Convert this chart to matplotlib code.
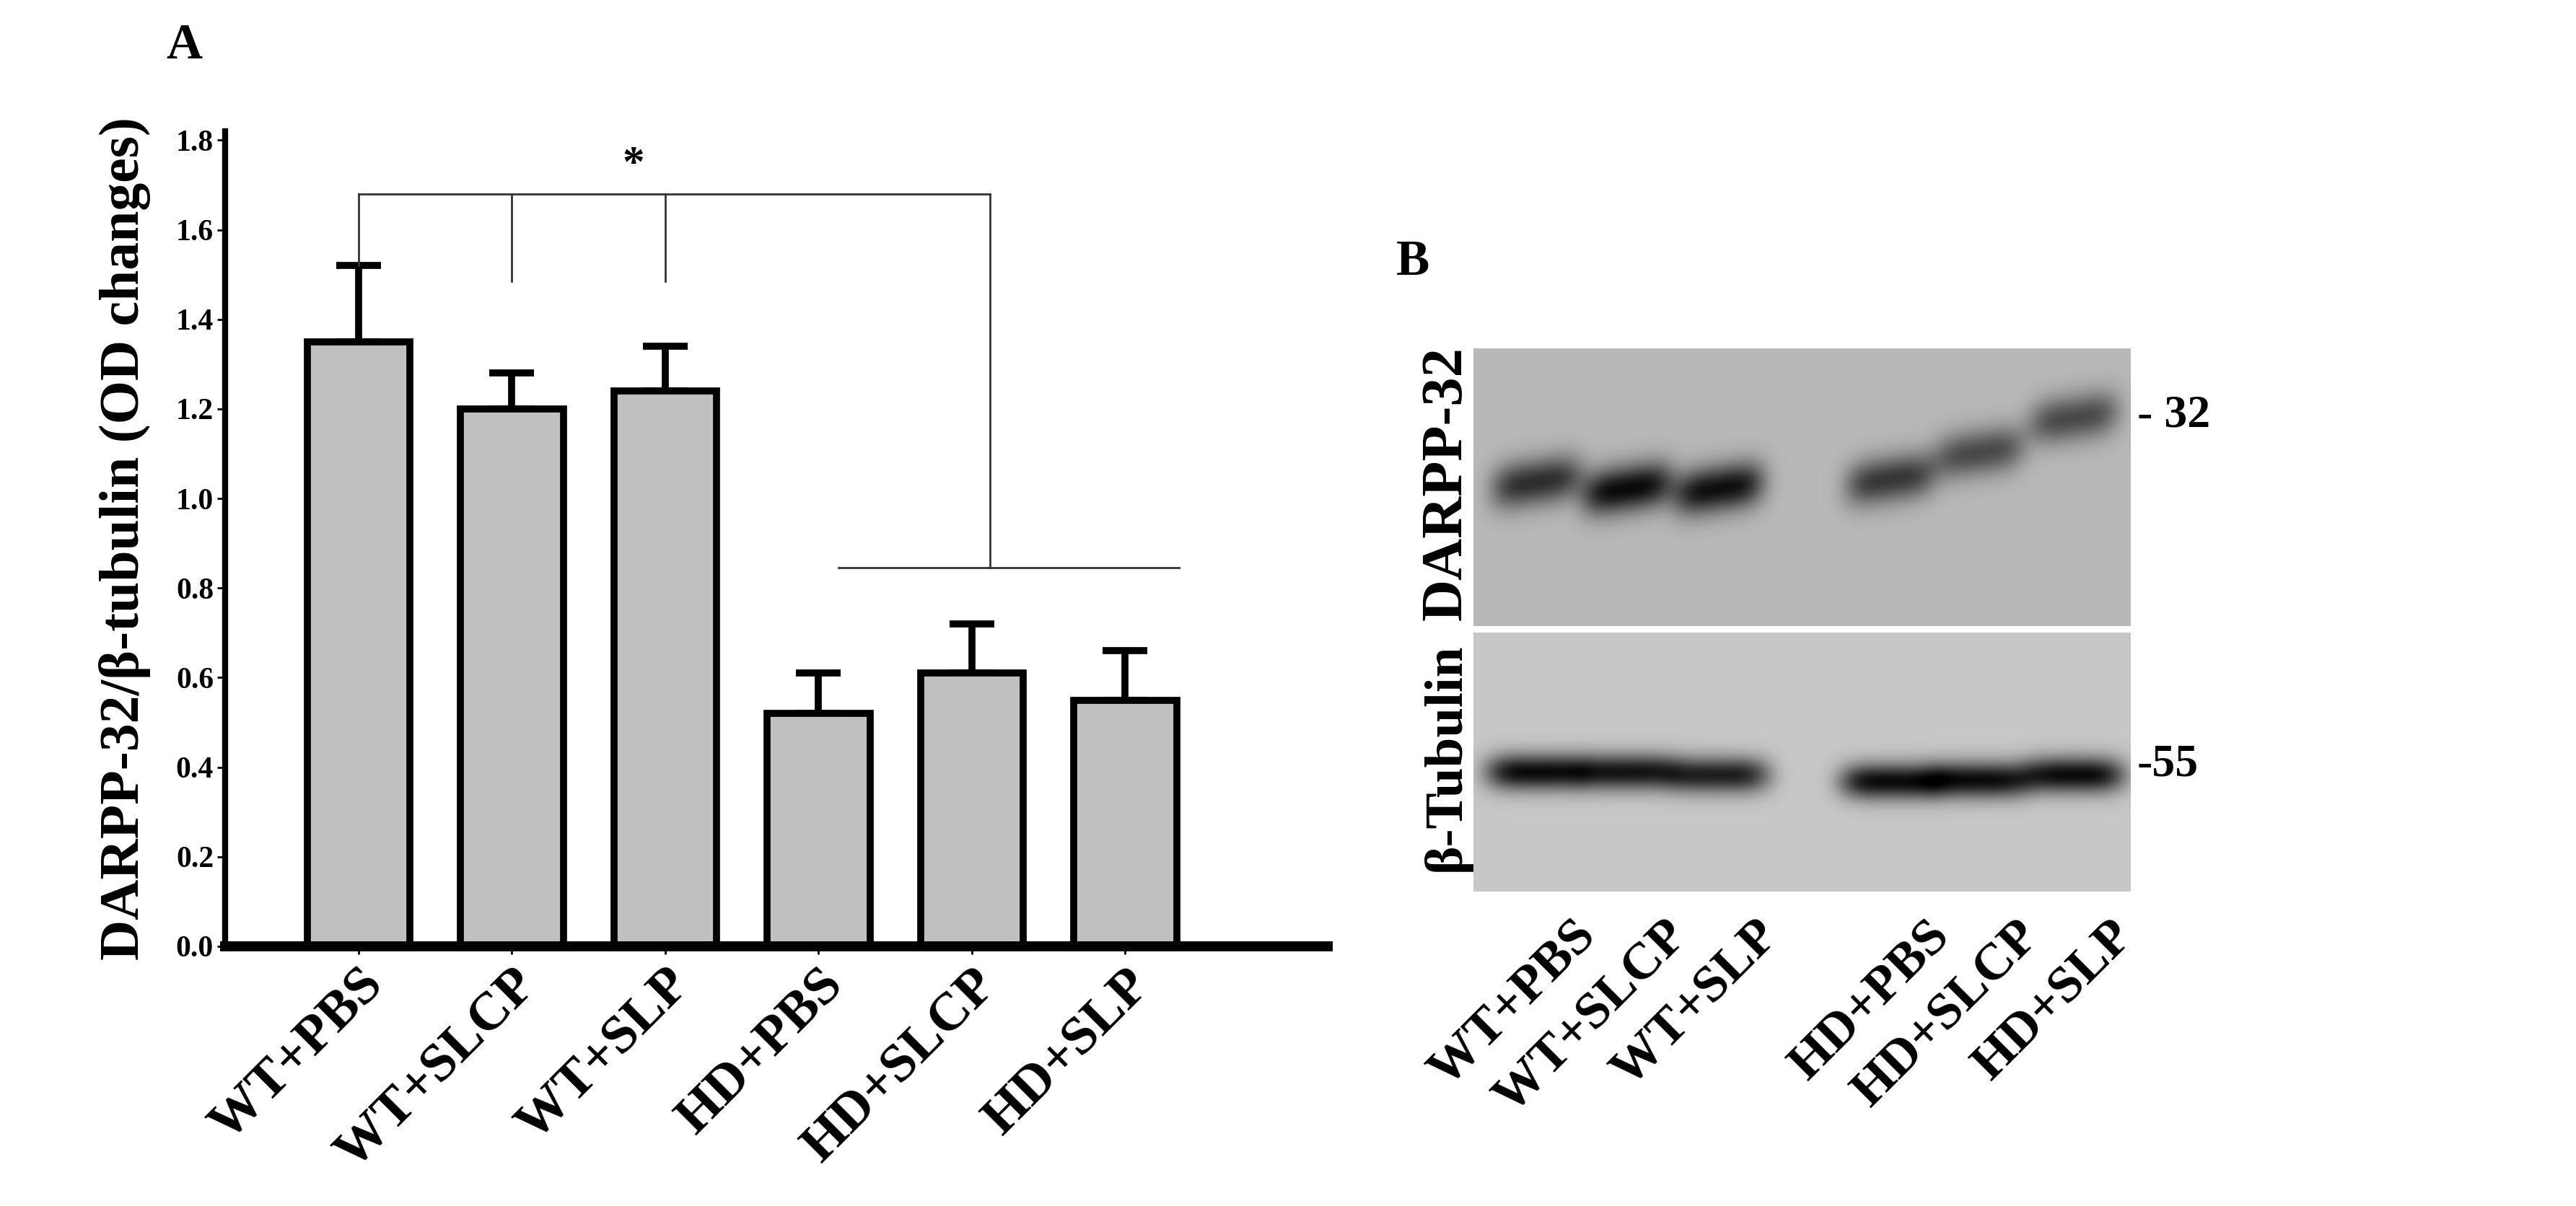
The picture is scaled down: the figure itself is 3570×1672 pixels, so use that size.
import numpy as np
import matplotlib.pyplot as plt

groups = ['WT+PBS', 'WT+SLCP', 'WT+SLP', 'HD+PBS', 'HD+SLCP', 'HD+SLP']
means = [1.35, 1.20, 1.24, 0.52, 0.61, 0.55]
errs = [0.17, 0.08, 0.10, 0.09, 0.11, 0.11]
yticks = [0.0, 0.2, 0.4, 0.6, 0.8, 1.0, 1.2, 1.4, 1.6, 1.8]

# blot band positions (figure pixels) and darkness
lanes_x = [2129, 2255, 2382, 2620, 2743, 2874]
darpp_y = [668, 677, 677, 664, 627, 579]
darpp_dark = [0.75, 0.95, 0.92, 0.7, 0.6, 0.6]
tub_y = [1070, 1070, 1074, 1083, 1081, 1074]
tub_dark = [0.95, 0.9, 0.85, 0.95, 0.95, 0.95]

plt.rcParams['font.family'] = ['Liberation Serif', 'DejaVu Serif']
plt.rcParams['font.weight'] = 'bold'

W, H = 3570, 1672
fig = plt.figure(figsize=(W / 100, H / 100), dpi=100)

ax = fig.add_axes([312 / W, 1 - 1312 / H, (1840 - 312) / W, (1312 - 182) / H])
x = np.arange(len(groups))
ax.bar(x, means, width=0.67, color='#c0c0c0', edgecolor='black', linewidth=7, zorder=2)
ax.errorbar(x, means, yerr=[np.zeros(6), errs], fmt='none', ecolor='black',
            elinewidth=7, capsize=22, capthick=7, zorder=1)
ax.set_xlim(-0.87, 6.32)
ax.set_ylim(0, 1.82)
ax.set_yticks(yticks)
ax.set_yticklabels([f'{v:.1f}' for v in yticks], fontsize=30, fontweight='bold')
ax.set_xticks(x)
ax.set_xticklabels(groups, rotation=45, ha='right', rotation_mode='anchor',
                   fontsize=54, fontweight='bold')
ax.tick_params(axis='both', direction='out', length=8, width=2)
ax.tick_params(axis='x', pad=6)
for s in ['top', 'right']:
    ax.spines[s].set_visible(False)
ax.spines['left'].set_linewidth(6)
ax.spines['bottom'].set_linewidth(10)
ax.set_ylabel('DARPP-32/β-tubulin (OD changes)', fontsize=56, fontweight='bold', labelpad=25)

# significance brackets
lc = dict(color='#333333', lw=2)
ax.plot([0, 4.12], [1.68, 1.68], **lc)
ax.plot([0, 0], [means[0] + errs[0], 1.68], **lc)
ax.plot([1, 1], [1.485, 1.68], **lc)
ax.plot([2, 2], [1.485, 1.68], **lc)
ax.plot([4.12, 4.12], [0.845, 1.68], **lc)
ax.plot([3.13, 5.35], [0.845, 0.845], **lc)
ax.text(1.79, 1.70, '*', fontsize=44, ha='center', va='bottom', fontweight='bold')

fig.text(255 / W, 1 - 64 / H, 'A', fontsize=50, fontweight='bold', ha='center', va='center')

# blot panel drawn in figure pixel coords
bx = fig.add_axes([0, 0, 1, 1])
bx.set_xlim(0, W)
bx.set_ylim(H, 0)
bx.axis('off')

def panel(y0, y1, ys, darks, bg, sx, sy, slant):
    xx = np.arange(2042, 2953)
    yy = np.arange(y0, y1)
    X, Y = np.meshgrid(xx, yy)
    img = np.full(X.shape, bg)
    for lx, ly, d in zip(lanes_x, ys, darks):
        yc = ly - slant * (X - lx)
        img -= d * bg * np.exp(-((X - lx) / sx) ** 4 - ((Y - yc) / sy) ** 2)
    bx.imshow(np.clip(img, 0, 1), cmap='gray', vmin=0, vmax=1,
              extent=(2042, 2953, y1, y0), aspect='auto', zorder=1)

panel(483, 868, darpp_y, darpp_dark, 0.72, 62, 32, 0.15)
panel(877, 1236, tub_y, tub_dark, 0.78, 70, 25, 0.0)

fig.text(1958 / W, 1 - 364 / H, 'B', fontsize=50, fontweight='bold', ha='center', va='center')
fig.text(2005 / W, 1 - 670 / H, 'DARPP-32', fontsize=58, fontweight='bold', rotation=90,
         ha='center', va='center')
fig.text(2005 / W, 1 - 1050 / H, 'β-Tubulin', fontsize=54, fontweight='bold', rotation=90,
         ha='center', va='center')
fig.text(2962 / W, 1 - 576 / H, '- 32', fontsize=46, fontweight='bold', ha='left', va='center')
fig.text(2962 / W, 1 - 1061 / H, '-55', fontsize=46, fontweight='bold', ha='left', va='center')
for lx, g in zip(lanes_x, groups):
    fig.text((lx + 50) / W, 1 - 1265 / H, g, fontsize=52, fontweight='bold', rotation=45,
             ha='right', va='top', rotation_mode='anchor')

fig.savefig('out.png', dpi=100)
